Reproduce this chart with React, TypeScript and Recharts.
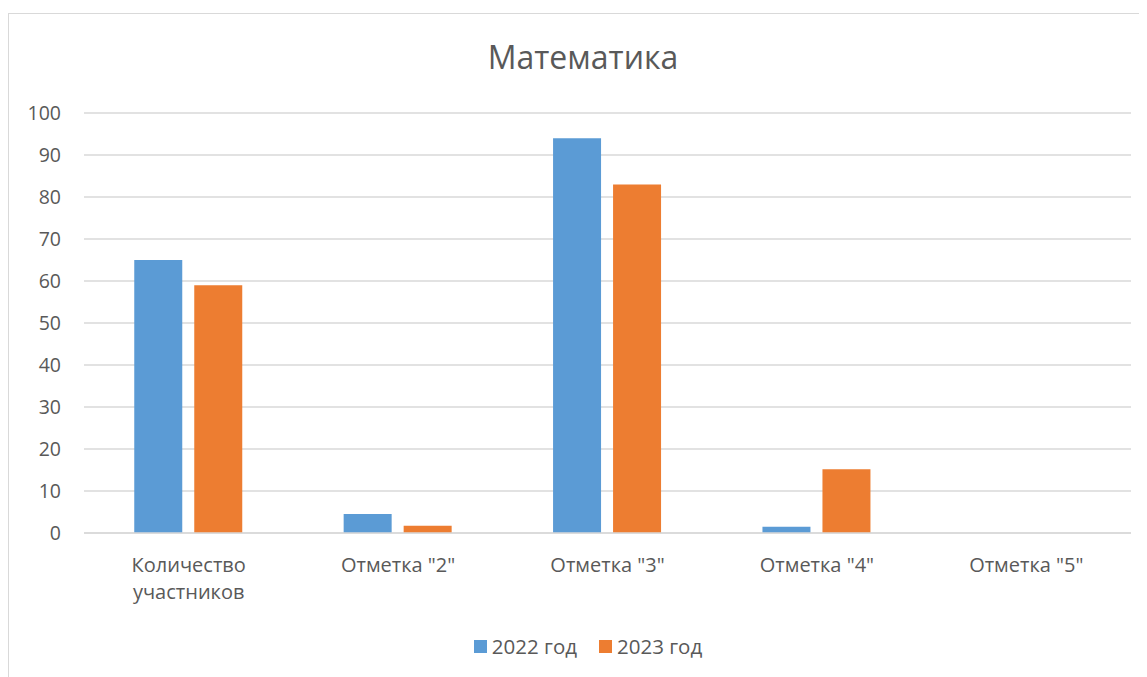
import { Bar, BarChart, CartesianGrid, XAxis, YAxis } from 'recharts'

const categories = ['Количество\nучастников', 'Отметка "2"', 'Отметка "3"', 'Отметка "4"', 'Отметка "5"']
const values2022 = [65, 4.5, 94, 1.5, 0]
const values2023 = [59, 1.7, 83, 15.2, 0]
const yTicks = [0, 10, 20, 30, 40, 50, 60, 70, 80, 90, 100]
const seriesNames = ['2022 год', '2023 год']
const colors = ['#5b9bd5', '#ed7d31']

const data = categories.map((name, i) => ({
  name,
  y2022: values2022[i],
  y2023: values2023[i]
}))

const font = '"Open Sans", sans-serif'

function CategoryTick(props: any) {
  const { x, y, payload } = props
  const lines = String(payload.value).split('\n')
  return (
    <text x={x} y={y + 39} textAnchor="middle" fill="#595959" fontSize={20} fontFamily={font}>
      {lines.map((l, i) => (
        <tspan key={i} x={x} dy={i === 0 ? 0 : 27}>{l}</tspan>
      ))}
    </text>
  )
}

export default function App() {
  return (
    <div style={{ position: 'relative', marginTop: 5, width: 1139, height: 664, borderLeft: '1px solid #d9d9d9', borderTop: '1px solid #d9d9d9', background: '#fff', fontFamily: font, overflow: 'hidden' }}>
      <div style={{ position: 'absolute', top: 21, left: 0, width: 1148, textAlign: 'center', fontSize: 32, color: '#595959' }}>
        Математика
      </div>
      <div style={{ position: 'absolute' }}>
        <BarChart
          width={1138}
          height={663}
          data={data}
          margin={{ top: 99, right: 16, left: 0, bottom: 114 }}
          barCategoryGap="24%"
          barGap={12}
        >
          <CartesianGrid vertical={false} stroke="#d9d9d9" strokeWidth={1.5} />
          <XAxis
            dataKey="name"
            height={30}
            axisLine={{ stroke: '#d9d9d9', strokeWidth: 1.5 }}
            tickLine={false}
            tickSize={0}
            tickMargin={0}
            interval={0}
            tick={<CategoryTick />}
          />
          <YAxis
            width={75}
            domain={[0, 100]}
            ticks={yTicks}
            axisLine={false}
            tickLine={false}
            tickSize={0}
            tickMargin={23}
            tick={{ fill: '#595959', fontSize: 19.5, fontFamily: font }}
          />
          <Bar dataKey="y2022" name={seriesNames[0]} fill={colors[0]} isAnimationActive={false} />
          <Bar dataKey="y2023" name={seriesNames[1]} fill={colors[1]} isAnimationActive={false} />
        </BarChart>
      </div>
      <div style={{ position: 'absolute', top: 618, left: 0, width: 1158, display: 'flex', justifyContent: 'center', gap: 22, fontSize: 20.5, color: '#595959' }}>
        {seriesNames.map((n, i) => (
          <div key={n} style={{ display: 'flex', alignItems: 'center', gap: 5 }}>
            <span style={{ width: 13, height: 13, background: colors[i], display: 'inline-block' }} />
            <span>{n}</span>
          </div>
        ))}
      </div>
    </div>
  )
}
